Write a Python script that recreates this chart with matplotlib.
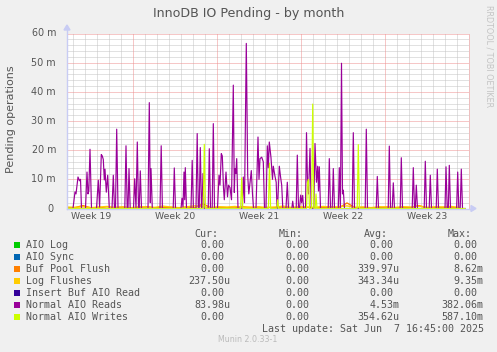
import matplotlib
matplotlib.use('Agg')
import matplotlib.pyplot as plt
import matplotlib.transforms as mtrans
from matplotlib.patches import Rectangle, Polygon
import numpy as np

# ---------------- data (time in hours from left edge of graph, values in milli) ----
reads_h = [0, 12, 16, 18, 22, 25, 27, 29,
           37, 40, 42, 43.6, 46, 49,
           59, 62.6, 65.2, 68.6, 70.6, 72.6, 74.6, 76, 78.6, 81.4, 84.6,
           90, 92.6, 95, 97, 99.4, 102, 115.6, 118, 120.4, 122, 124, 126.4,
           133, 135.4, 138, 140.6, 143, 144.4, 146.6, 149,
           162, 164.6, 166.6, 168, 170.6, 186, 188.4, 190.8, 212.4, 214.6, 217,
           228, 230, 232, 234, 235.4, 236.6, 239, 248, 250.4, 252.8,
           258, 260.4, 262.6, 264.4, 266.6, 269, 270, 272, 274,
           282.4, 284.6, 287, 290.4, 292.6, 295,
           301, 304, 306, 308.6, 310.6, 313, 314.6, 318, 321, 323, 326, 329,
           332.6, 334.6, 336, 337.6, 339.4, 342,
           350.6, 352.6, 355, 358.6, 361.4, 363.6, 366.6, 368.6, 371, 373,
           378, 382, 384, 386, 389.4, 392.6, 395,
           398, 400.6, 402.6, 404.6, 408, 411, 412.6, 416, 418.4, 420,
           421, 424.6, 427, 429.4, 431.6, 438, 440.6, 443, 449.6, 451.4, 453.2,
           458.4, 460.6, 463, 465, 467.4, 469.2, 471.4, 473.2,
           477, 479, 481, 483, 486, 488.4,
           493.6, 496, 499, 501.4, 503, 504.6, 507,
           522.4, 524.6, 527, 530.4, 532.6, 535,
           542.6, 544.6, 546.8, 549, 551, 552.6, 555,
           570.4, 572.6, 575, 596.4, 598.6, 601, 618.4, 620.6, 623,
           642.4, 644.6, 647, 650.4, 652.6, 655, 666.4, 668.6, 671,
           690.4, 692.6, 695, 696.6, 698.6, 701, 714.4, 716.6, 719,
           724.4, 726.6, 729, 738.4, 740.6, 743,
           756, 758, 760.4, 762.6, 764.6, 767,
           779.2, 781.4, 783.6, 786.4, 788.6, 791, 796]
reads_v = [0, 0, 5.7, 5, 10.8, 9.5, 10, 0,
           0, 12.5, 5, 6, 20.3, 0,
           0, 9.7, 0.5, 18.5, 18, 16.8, 9.8, 13.5, 5.6, 11.4, 0,
           0, 11.4, 0, 0, 27.2, 0, 0, 21.5, 0, 0, 13.7, 0,
           0, 10.2, 0, 22.8, 0, 0, 12.9, 0,
           0, 36.3, 2, 13.7, 0, 0, 21.5, 0, 0, 13.9, 0,
           0, 3.5, 0.5, 12.5, 3, 14, 0, 0, 16.5, 0,
           0, 25.7, 0, 0, 20.9, 0, 0, 12, 0,
           0, 20.5, 0, 0, 29.1, 0,
           0, 11.4, 8, 18.8, 18, 7, 3, 12.5, 4, 8, 7.2, 3,
           42.3, 5.5, 13.7, 12, 17.1, 0,
           0, 10.8, 2, 56.6, 11.4, 5, 10, 13, 5, 0,
           0, 24.5, 10, 17.1, 17.6, 16, 0,
           0, 21.5, 14, 22.8, 17.4, 10, 14.5, 11, 9, 0,
           0, 14.5, 11, 8, 0, 0, 9, 0, 0, 2.5, 0,
           0, 18.3, 0, 0, 4.6, 2, 4.5, 0,
           0, 26, 9, 5, 20.6, 0,
           0, 22.3, 9, 14.5, 6, 14.3, 0,
           0, 17.1, 0, 0, 13.7, 0,
           0, 14, 0, 49.8, 5, 6.3, 0,
           0, 26, 0, 0, 27.2, 0, 0, 11, 0,
           0, 21.4, 0, 0, 8.8, 0, 0, 17.4, 0,
           0, 14, 0, 0, 8, 0, 0, 16.2, 0,
           0, 11.4, 0, 0, 13.5, 0,
           0, 14.3, 0, 0, 14.8, 0,
           0, 12.5, 0, 0, 13.5, 0, 0]

writes_h = [0, 272.4, 274.6, 276.8, 347.2, 349.4, 351.6, 402.8, 405, 407.2,
            419.6, 421.4, 423.2, 479, 481, 483, 485, 489.2, 491.4, 493.6,
            496.4, 498, 500, 580.4, 582.6, 584.8, 796]
writes_v = [0, 0, 22, 0, 0, 10.5, 0, 0, 15.5, 0,
            0, 3, 0, 0, 9, 10, 0, 0, 35.8, 0,
            0, 5, 0, 0, 21.9, 0, 0]

base_h = list(range(0, 800, 16))
log_flush_v = [0.5, 0.4, 0.6, 0.3, 0.5, 0.7, 0.4, 0.5, 0.3, 0.6,
               0.5, 0.4, 0.8, 0.5, 0.3, 0.6, 0.9, 0.5, 0.4, 0.6,
               0.5, 0.7, 0.4, 0.5, 0.6, 0.3, 0.5, 0.8, 0.4, 0.6,
               0.5, 0.4, 0.7, 0.5, 0.6, 0.9, 0.4, 0.5, 0.3, 0.6,
               0.5, 0.4, 0.6, 0.5, 0.8, 0.4, 0.6, 0.5, 0.7, 0.4]
buf_flush_v = [0.2, 0.3, 1.0, 0.2, 0.4, 0.1, 0.3, 0.5, 0.2, 0.3,
               0.6, 0.2, 0.3, 0.4, 0.2, 0.5, 0.3, 1.6, 0.2, 0.4,
               0.3, 0.2, 0.6, 0.3, 0.2, 0.4, 0.3, 0.5, 0.2, 0.3,
               0.4, 0.2, 0.3, 0.5, 0.2, 1.9, 0.3, 0.4, 0.2, 0.3,
               0.5, 0.2, 0.4, 0.3, 1.0, 0.2, 0.3, 0.4, 0.2, 0.3]
zero_h = [0, 796]
zero_v = [0, 0]

week_pos = [48, 216, 384, 552, 720]
week_labels = ['Week 19', 'Week 20', 'Week 21', 'Week 22', 'Week 23']
week_lines = [132, 300, 468, 636, 804]
ytick_vals = [0, 10, 20, 30, 40, 50, 60]
ytick_labels = ['0', '10 m', '20 m', '30 m', '40 m', '50 m', '60 m']

names = ['AIO Log', 'AIO Sync', 'Buf Pool Flush', 'Log Flushes',
         'Insert Buf AIO Read', 'Normal AIO Reads', 'Normal AIO Writes']
colors = ['#00CC00', '#0066B3', '#FF8000', '#FFCC00', '#330099', '#990099', '#CCFF00']
cur = ['0.00 ', '0.00 ', '0.00 ', '237.50u', '0.00 ', '83.98u', '0.00 ']
mins = ['0.00 '] * 7
avg = ['0.00 ', '0.00 ', '339.97u', '343.34u', '0.00 ', '4.53m', '354.62u']
mx = ['0.00 ', '0.00 ', '8.62m', '9.35m', '0.00 ', '382.06m', '587.10m']

# ---------------- layout ----------------
W, H = 497, 352
fig = plt.figure(figsize=(W / 100, H / 100), dpi=100)
fig.patch.set_facecolor('#F0F0F0')

def fx(x):
    return x / W

def fy(y):
    return 1 - y / H

L, R, T, B = 67, 469, 33.5, 208.5
ax = fig.add_axes([fx(L), fy(B), fx(R) - fx(L), fy(T) - fy(B)])
ax.set_facecolor('white')
ax.set_xlim(0, 804)
ax.set_ylim(0, 60)
for s in ax.spines.values():
    s.set_visible(False)

TXT = '#555555'
lw1 = 0.72
# grid
for h in range(12, 804, 24):
    if h not in week_lines:
        ax.axvline(h, color='#C4C4C4', lw=lw1, ls=(0, (1, 1)), zorder=1)
for v in range(2, 60, 2):
    if v % 10:
        ax.axhline(v, color='#C4C4C4', lw=lw1, ls=(0, (1, 1)), zorder=1)
for h in week_lines:
    ax.axvline(h, color='#EE9090', lw=lw1, ls=(0, (1, 1)), zorder=1.5, clip_on=False)
for v in range(10, 61, 10):
    ax.axhline(v, color='#EE9090', lw=lw1, ls=(0, (1, 1)), zorder=1.5, clip_on=False)

# series
ax.plot(zero_h, zero_v, color=colors[0], lw=lw1, zorder=3)
ax.plot(zero_h, zero_v, color=colors[1], lw=lw1, zorder=3)
ax.plot(base_h, buf_flush_v, color=colors[2], lw=1.0, zorder=3)
ax.plot(base_h, log_flush_v, color=colors[3], lw=1.0, zorder=3)
ax.plot(zero_h, zero_v, color=colors[4], lw=lw1, zorder=3)
ax.plot(reads_h, reads_v, color=colors[5], lw=0.85, zorder=3)
ax.plot(writes_h, writes_v, color=colors[6], lw=0.85, zorder=3)

# axes lines with arrows (drawn in pixel-based figure coords)
AX = '#C8CCF4'
fig.add_artist(plt.Line2D([fx(L), fx(L)], [fy(B), fy(29)], color=AX, lw=1, zorder=10))
fig.add_artist(plt.Line2D([fx(L), fx(472)], [fy(B), fy(B)], color=AX, lw=1, zorder=10))
fig.add_artist(Polygon([[fx(L - 3), fy(30)], [fx(L + 3), fy(30)], [fx(L), fy(25)]],
                       closed=True, color=AX, zorder=10))
fig.add_artist(Polygon([[fx(471), fy(B - 3)], [fx(471), fy(B + 3)], [fx(476), fy(B)]],
                       closed=True, color=AX, zorder=10))

# ticks
ax.set_xticks(week_pos)
ax.set_xticklabels(week_labels)
ax.tick_params(axis='x', length=0, pad=2.5, labelsize=6.7, labelcolor=TXT)
ax.set_yticks([])
tr = mtrans.blended_transform_factory(fig.transFigure, ax.transData)
for v, lab in zip(ytick_vals, ytick_labels):
    xr = 56 if lab != '0' else 53.5
    ax.text(fx(xr), v, lab, transform=tr, ha='right', va='center',
            fontsize=6.9, color=TXT, clip_on=False)

# titles
fig.text(fx(248.5), fy(13), 'InnoDB IO Pending - by month', ha='center', va='center',
         fontsize=9.1, color=TXT)
fig.text(fx(11), fy(119), 'Pending operations', rotation=90, ha='center', va='center',
         fontsize=8, color=TXT)
fig.text(fx(488.5), fy(5), 'RRDTOOL / TOBI OETIKER', rotation=270, ha='center', va='top',
         fontsize=5.75, color='#C4C4C4')

# legend
MONO = 'DejaVu Sans Mono'
LF = 7.2
hdr_y = 234
for lab, xr in zip(['Cur:', 'Min:', 'Avg:', 'Max:'], [218.5, 303, 387.5, 471.5]):
    fig.text(fx(xr), fy(hdr_y), lab, ha='right', va='center', family=MONO, fontsize=LF, color=TXT)
for i, nm in enumerate(names):
    y = 245 + 12 * i
    fig.add_artist(Rectangle((fx(14), fy(y + 3)), 6 / W, 6 / H, color=colors[i], lw=0))
    fig.text(fx(26), fy(y), nm, ha='left', va='center', family=MONO, fontsize=LF, color=TXT)
    for vals, xr in zip([cur, mins, avg, mx], [230.5, 315, 399.5, 483.5]):
        s = vals[i]
        xx = xr
        if s.endswith(' '):
            s = s.rstrip()
            xx = xr - 6.02
        fig.text(fx(xx), fy(y), s, ha='right', va='center', family=MONO, fontsize=LF, color=TXT)
fig.text(fx(483.5), fy(329), 'Last update: Sat Jun  7 16:45:00 2025',
         ha='right', va='center', family=MONO, fontsize=LF, color=TXT)
fig.text(fx(248), fy(340), 'Munin 2.0.33-1', ha='center', va='center', fontsize=5.7, color='#BBBBBB')

fig.savefig('out.png', dpi=100, facecolor=fig.get_facecolor())
